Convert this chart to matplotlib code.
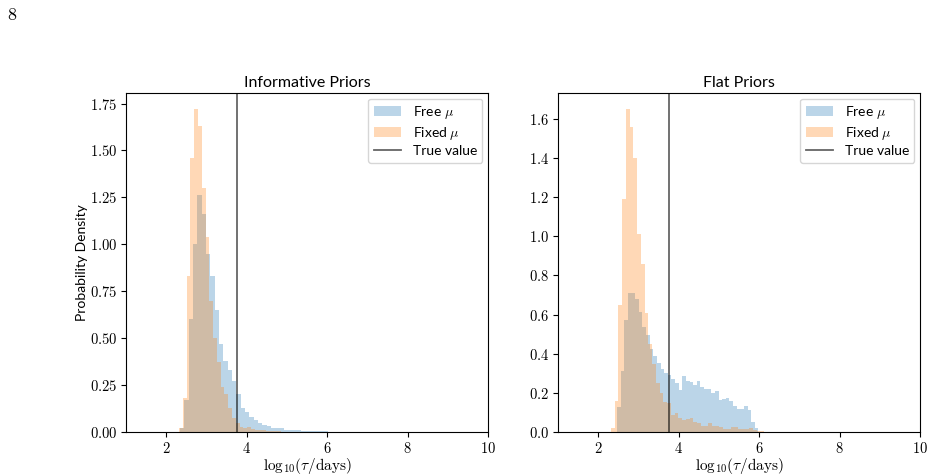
import numpy as np
import matplotlib
matplotlib.use('Agg')
import matplotlib.pyplot as plt
from matplotlib.ticker import FuncFormatter, MultipleLocator

plt.rcParams['mathtext.fontset'] = 'cm'
plt.rcParams['font.family'] = ['Lato', 'DejaVu Sans']

true_value = 3.77

# Informative priors panel
inf_free_start = 2.339
inf_free_width = 0.108
inf_free_heights = [0.02, 0.17, 0.60, 1.00, 1.26, 1.16, 0.95, 0.83, 0.65, 0.47,
                    0.38, 0.33, 0.27, 0.20, 0.127, 0.108, 0.078, 0.064, 0.05, 0.037,
                    0.034, 0.023, 0.023, 0.02, 0.012, 0.01, 0.01, 0.008, 0.006, 0.005,
                    0.004, 0.004, 0.003, 0.003, 0.002, 0.002, 0.002, 0.001, 0.001, 0.001]
inf_fixed_start = 2.32
inf_fixed_width = 0.094
inf_fixed_heights = [0.02, 0.18, 0.83, 1.46, 1.72, 1.63, 1.30, 1.04, 0.70, 0.50,
                     0.375, 0.24, 0.20, 0.126, 0.073, 0.046, 0.028, 0.02, 0.028, 0.014,
                     0.012, 0.01, 0.008, 0.006, 0.005, 0.004, 0.003, 0.002, 0.002, 0.001]

# Flat priors panel
flat_free_start = 2.466
flat_free_width = 0.0902
flat_free_heights = [0.13, 0.31, 0.57, 0.71, 0.71, 0.68, 0.615, 0.537, 0.494, 0.425,
                     0.386, 0.355, 0.323, 0.30, 0.29, 0.27, 0.25, 0.215, 0.284, 0.26,
                     0.255, 0.24, 0.26, 0.232, 0.22, 0.22, 0.20, 0.21, 0.164, 0.167,
                     0.176, 0.159, 0.133, 0.12, 0.12, 0.133, 0.113, 0.053, 0.02]
flat_fixed_start = 2.317
flat_fixed_width = 0.093
flat_fixed_heights = [0.02, 0.16, 0.65, 1.19, 1.65, 1.56, 1.40, 1.01, 0.86, 0.61,
                      0.45, 0.35, 0.25, 0.20, 0.155, 0.15, 0.085, 0.095, 0.07, 0.06,
                      0.065, 0.07, 0.05, 0.046, 0.03, 0.03, 0.048, 0.03, 0.03, 0.024,
                      0.017, 0.017, 0.027, 0.027, 0.015, 0.014, 0.014, 0.022, 0.01, 0.005,
                      0.005]

titles = ['Informative Priors', 'Flat Priors']
xlabel = r'$\mathrm{log}_{10}(\tau/\mathrm{days})$'
ylabel = 'Probability Density'
labels = [r'Free $\mu$', r'Fixed $\mu$', 'True value']


def draw_hist(ax, start, width, heights, color, label):
    heights = np.asarray(heights)
    edges = start + width * np.arange(len(heights) + 1)
    centers = 0.5 * (edges[:-1] + edges[1:])
    ax.hist(centers, bins=edges, weights=heights, color=color, alpha=0.3, label=label)


fig = plt.figure(figsize=(9.32, 4.76), dpi=100)
ax1 = fig.add_axes([126 / 932, 1 - 432 / 476, 362 / 932, 339 / 476])
ax2 = fig.add_axes([558 / 932, 1 - 432 / 476, 362 / 932, 339 / 476])

panels = [
    (ax1, inf_free_start, inf_free_width, inf_free_heights,
     inf_fixed_start, inf_fixed_width, inf_fixed_heights, 0.25, '{:.2f}'),
    (ax2, flat_free_start, flat_free_width, flat_free_heights,
     flat_fixed_start, flat_fixed_width, flat_fixed_heights, 0.2, '{:.1f}'),
]

for i, (ax, fs, fw, fh, xs, xw, xh, ystep, yfmt) in enumerate(panels):
    draw_hist(ax, fs, fw, fh, 'C0', labels[0])
    draw_hist(ax, xs, xw, xh, 'C1', labels[1])
    ax.axvline(true_value, color='k', alpha=0.6, lw=1.3, label=labels[2])
    ax.set_xlim(1, 10)
    ax.xaxis.set_major_locator(MultipleLocator(2))
    ax.yaxis.set_major_locator(MultipleLocator(ystep))
    ax.xaxis.set_major_formatter(FuncFormatter(lambda v, p: r'$%d$' % v))
    ax.yaxis.set_major_formatter(FuncFormatter(lambda v, p, f=yfmt: '$' + f.format(v) + '$'))
    ax.tick_params(labelsize=10.5, pad=3)
    ax.set_title(titles[i], fontsize=11.5, pad=4)
    ax.set_xlabel(xlabel, fontsize=11, labelpad=0)
    ax.legend(loc='upper right', fontsize=10, framealpha=0.8,
              labelspacing=0.25, borderpad=0.4, handletextpad=0.8,
              borderaxespad=0.4)

ax1.set_ylabel(ylabel, fontsize=10, labelpad=1)

fig.text(12 / 932, 1 - 15 / 476, r'$8$', fontsize=13, va='center', ha='center')

fig.savefig('out.png', dpi=100)
